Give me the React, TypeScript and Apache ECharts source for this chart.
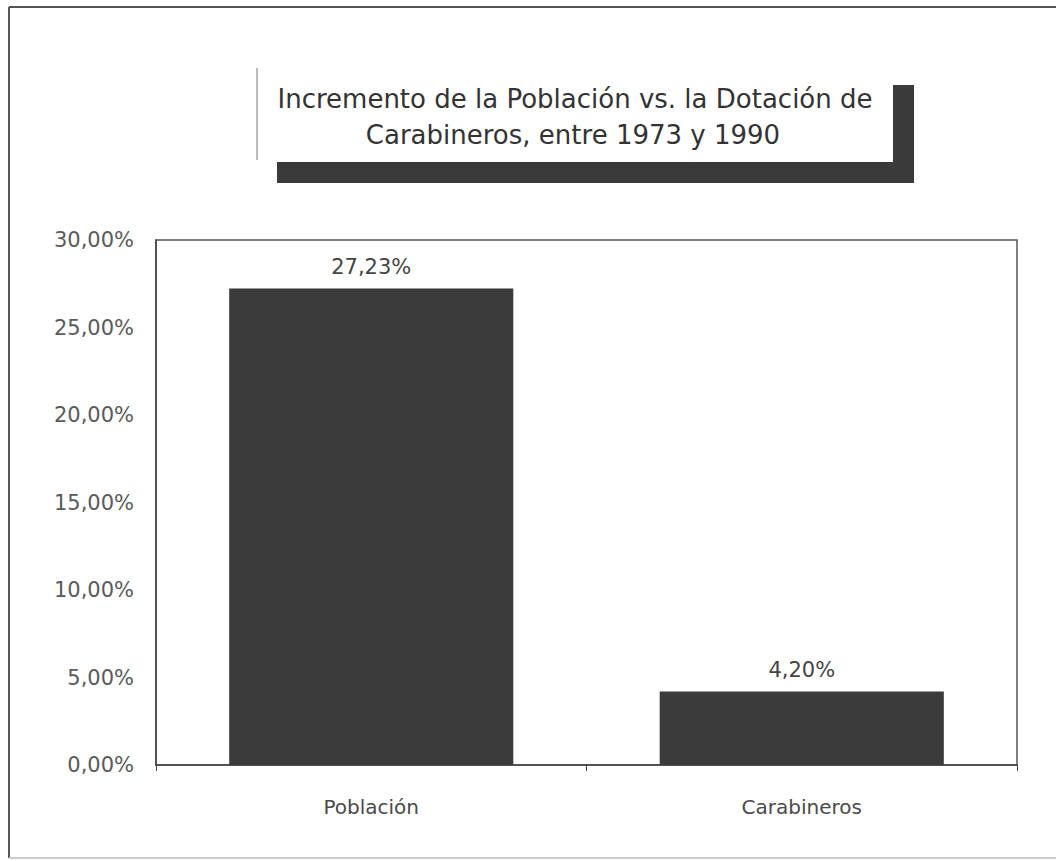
import React, { useEffect, useRef } from "react";
import * as echarts from "echarts";

const categories = ["Población", "Carabineros"];
const values = [27.23, 4.2];
const titleLines = ["Incremento de la Población vs. la Dotación de", "Carabineros, entre 1973 y 1990"];
const yMin = 0;
const yMax = 30;
const yStep = 5;

const fmt = (v: number) => v.toFixed(2).replace(".", ",") + "%";

export default function App() {
  const ref = useRef<HTMLDivElement>(null);
  useEffect(() => {
    if (!ref.current) return;
    const chart = echarts.init(ref.current, null, { renderer: "svg" });
    const font = "'DejaVu Sans', 'Open Sans', sans-serif";
    chart.setOption({
      animation: false,
      backgroundColor: "#ffffff",
      grid: {
        left: 156,
        top: 240,
        right: 39,
        bottom: 96,
        show: true,
        borderColor: "#555",
        borderWidth: 1.5,
        containLabel: false,
      },
      xAxis: {
        type: "category",
        data: categories,
        axisLine: { lineStyle: { color: "#444", width: 1.5 } },
        axisTick: { show: true, length: 6, lineStyle: { color: "#444" } },
        axisLabel: { color: "#4a4a4a", fontSize: 20, fontFamily: font, margin: 32 },
      },
      yAxis: {
        type: "value",
        min: yMin,
        max: yMax,
        interval: yStep,
        axisLine: { show: true, lineStyle: { color: "#444", width: 1.5 } },
        axisTick: { show: false },
        splitLine: { show: false },
        axisLabel: {
          color: "#5a5a5a",
          fontSize: 21,
          fontFamily: font,
          margin: 22,
          formatter: (v: number) => fmt(v),
        },
      },
      series: [
        {
          type: "bar",
          data: values,
          barWidth: "66%",
          itemStyle: { color: "#3b3b3b" },
          label: {
            show: true,
            position: "top",
            distance: 11,
            color: "#444",
            fontSize: 21,
            fontFamily: font,
            formatter: (p: any) => fmt(p.value),
          },
        },
      ],
      graphic: [
        { type: "line", shape: { x1: 9, y1: 7, x2: 1056, y2: 7 }, style: { stroke: "#555", lineWidth: 2 } },
        { type: "line", shape: { x1: 9, y1: 7, x2: 9, y2: 858 }, style: { stroke: "#555", lineWidth: 2 } },
        { type: "line", shape: { x1: 9, y1: 858, x2: 1056, y2: 858 }, style: { stroke: "#ccc", lineWidth: 2 } },
        { type: "rect", shape: { x: 277, y: 85, width: 637, height: 98 }, style: { fill: "#3a3a3a" } },
        { type: "rect", shape: { x: 257, y: 68, width: 636, height: 94 }, style: { fill: "#ffffff" } },
        { type: "line", shape: { x1: 257, y1: 68, x2: 257, y2: 160 }, style: { stroke: "#777", lineWidth: 1 } },
        {
          type: "text",
          x: 575,
          y: 99,
          style: {
            text: titleLines[0],
            fill: "#333",
            fontSize: 26,
            fontFamily: font,
            align: "center",
            verticalAlign: "middle",
          },
        },
        {
          type: "text",
          x: 573,
          y: 135,
          style: {
            text: titleLines[1],
            fill: "#333",
            fontSize: 26,
            fontFamily: font,
            align: "center",
            verticalAlign: "middle",
          },
        },
      ],
    });
    return () => chart.dispose();
  }, []);
  return (
    <div
      ref={ref}
      style={{ position: "absolute", left: 0, top: 0, width: 1056, height: 861 }}
    />
  );
}
